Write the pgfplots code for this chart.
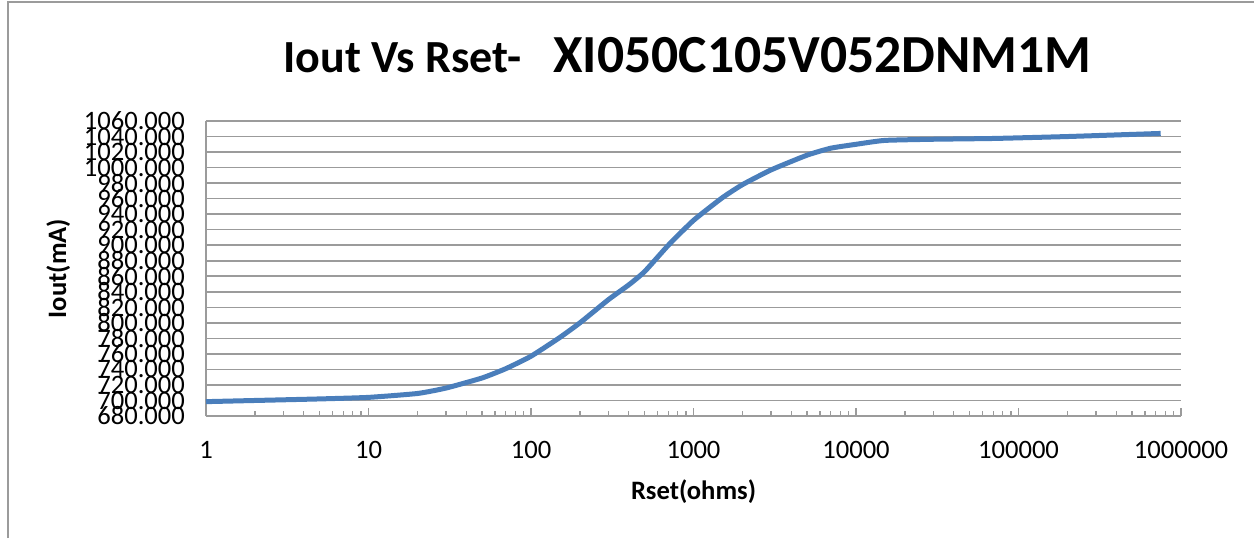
\documentclass[border=0pt]{standalone}
\usepackage{pgfplots}
\pgfplotsset{compat=1.18}
\usepackage{fontspec}
\setmainfont{Carlito}
\definecolor{excelblue}{RGB}{74,126,187}
\definecolor{gridgray}{RGB}{155,155,155}
\begin{document}
\begin{tikzpicture}
\path[use as bounding box] (0,0) rectangle (627pt,269pt);
\draw[gridgray, line width=1pt] (4pt,0) -- (4pt,268pt) -- (627pt,268pt);
\node[anchor=base west, font=\bfseries\fontsize{23}{27}\selectfont, inner sep=0pt] at (141.5pt,233pt) {Iout Vs Rset-};
\node[anchor=base west, font=\bfseries\fontsize{26.8}{30}\selectfont, inner sep=0pt] at (276.5pt,233pt) {XI050C105V052DNM1M};
\begin{axis}[
    at={(103pt,61pt)}, anchor=south west,
    scale only axis, width=487.5pt, height=147.5pt,
    xmode=log, xmin=1, xmax=1000000,
    ymin=680, ymax=1060,
    ytick={680,700,...,1060},
    xtick={1,10,100,1000,10000,100000,1000000},
    xticklabels={1,10,100,1000,10000,100000,1000000},
    axis x line*=bottom, axis y line*=left,
    axis line style={gridgray, line width=0.8pt, -},
    ymajorgrids, major grid style={gridgray, line width=0.8pt},
    tick align=inside,
    xtick pos=bottom, ytick pos=left,
    major tick length=4pt, minor tick length=2.5pt,
    x tick style={gridgray, line width=0.6pt},
    y tick style={draw=none},
    minor x tick num=8,
    tick label style={font=\fontsize{13.3}{14}\selectfont},
    xticklabel style={yshift=-9pt},
    yticklabel style={xshift=-7pt},
    yticklabel={\pgfmathprintnumber[fixed, fixed zerofill, precision=3, set thousands separator={}, assume math mode=true]{\tick}},
    label style={font=\bfseries\fontsize{13.3}{15}\selectfont},
    xlabel={Rset(ohms)},
    ylabel={Iout(mA)},
    xlabel style={yshift=-4pt},
]
\addplot[excelblue, line width=2.5pt, smooth, tension=0.3] coordinates {
    (1,698.5) (2,700) (5,702) (10,704) (20,709) (30,716) (50,729)
    (70,741) (100,757) (150,781) (200,800) (300,830) (400,849)
    (500,866) (700,900) (1000,932) (1500,961) (2000,978) (3000,997)
    (5000,1016) (7000,1025) (10000,1030) (15000,1035) (30000,1036.5)
    (70000,1037.5) (200000,1040) (750000,1044)
};
\end{axis}
\end{tikzpicture}
\end{document}
